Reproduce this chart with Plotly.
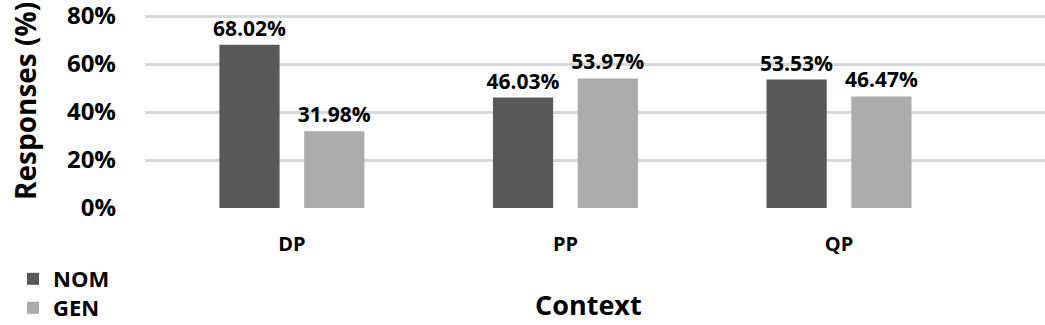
import plotly.graph_objects as go

categories = ["DP", "PP", "QP"]
nom_values = [68.02, 46.03, 53.53]
gen_values = [31.98, 53.97, 46.47]
y_ticks = [0, 20, 40, 60, 80]
y_tick_labels = ["0%", "20%", "40%", "60%", "80%"]

FONT = "'Open Sans', Lato, sans-serif"

fig = go.Figure()
fig.add_trace(go.Bar(
    x=[0, 1, 2], y=nom_values, name="NOM", legend="legend",
    marker=dict(color="#595959", line=dict(width=0)),
    text=[f"{v:.2f}%" for v in nom_values], textposition="outside",
    textfont=dict(family=FONT, size=21, color="#000000", weight="bold"),
    cliponaxis=False, constraintext="none",
))
fig.add_trace(go.Bar(
    x=[0, 1, 2], y=gen_values, name="GEN", legend="legend2",
    marker=dict(color="#ababab", line=dict(width=0)),
    text=[f"{v:.2f}%" for v in gen_values], textposition="outside",
    textfont=dict(family=FONT, size=21, color="#000000", weight="bold"),
    cliponaxis=False, constraintext="none",
))

W, H = 1045, 325
L, R, T, B = 145, 0, 10, 117
pw, ph = W - L - R, H - T - B
Y_TOP = ph / 2.4  # 2.4 px per percentage point

def px_x(p):
    return (p - L) / pw

def px_y(p):
    return (H - B - p) / ph

legend_font = dict(family=FONT, size=22, color="#000000", weight="bold")

fig.update_layout(
    width=W, height=H,
    margin=dict(l=L, r=R, t=T, b=B, autoexpand=False),
    paper_bgcolor="white", plot_bgcolor="white",
    barmode="group", bargap=0.38, bargroupgap=0.29,
    font=dict(family=FONT, color="#000000"),
    showlegend=True,
    legend=dict(
        x=px_x(13), y=px_y(279), xanchor="left", yanchor="middle",
        font=legend_font, bgcolor="rgba(0,0,0,0)",
    ),
    legend2=dict(
        x=px_x(13), y=px_y(308), xanchor="left", yanchor="middle",
        font=legend_font, bgcolor="rgba(0,0,0,0)",
    ),
    xaxis=dict(
        range=[-0.537, 2.753],
        tickmode="array", tickvals=[0, 1, 2], ticktext=categories,
        tickfont=dict(family=FONT, size=20, color="#000000", weight="bold"),
        showgrid=False, zeroline=False, showline=False, ticks="",
        ticklabelstandoff=22, automargin=False,
    ),
    yaxis=dict(
        range=[0, Y_TOP],
        tickmode="array", tickvals=y_ticks, ticktext=y_tick_labels,
        tickfont=dict(family=FONT, size=24, color="#000000", weight="bold"),
        showgrid=True, gridcolor="#d9d9d9", gridwidth=2.5,
        zeroline=False, showline=False, ticks="",
        ticklabelstandoff=28, ticklabeloverflow="allow", automargin=False,
    ),
    annotations=[
        dict(text="Responses (%)", textangle=-90, xref="paper", yref="paper",
             x=px_x(25), y=px_y(101), xanchor="center", yanchor="middle",
             showarrow=False,
             font=dict(family=FONT, size=28, color="#000000", weight="bold")),
        dict(text="Context", xref="paper", yref="paper",
             x=px_x(588), y=px_y(304), xanchor="center", yanchor="middle",
             showarrow=False,
             font=dict(family=FONT, size=27, color="#000000", weight="bold")),
    ],
)

fig.write_html(
    "out.html",
    config={"displayModeBar": False},
    post_script="document.body.style.margin='0';document.body.style.overflow='hidden';",
)
